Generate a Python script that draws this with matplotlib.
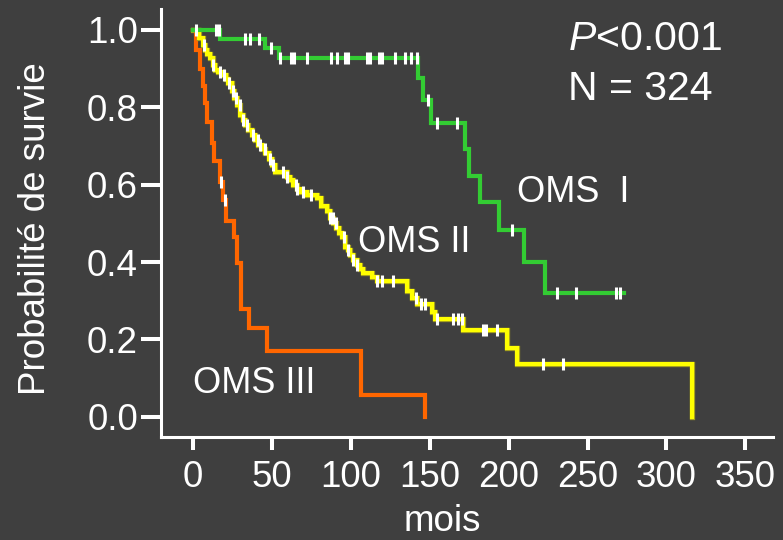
import numpy as np
import matplotlib.pyplot as plt
import matplotlib.patheffects as pe

plt.rcParams['font.family'] = ['Liberation Sans', 'DejaVu Sans']
plt.rcParams['mathtext.fontset'] = 'custom'
plt.rcParams['mathtext.it'] = 'Liberation Sans:italic'
plt.rcParams['mathtext.rm'] = 'Liberation Sans'

# OMS I (green): step times, survival after each step, censored times
t1 = [0, 17.3, 45.6, 54.5, 142.6, 145.5, 150.5, 172.4, 174.7, 181.9, 194, 209.8, 223, 273]
s1 = [1.0, 0.976, 0.953, 0.927, 0.876, 0.819, 0.760, 0.692, 0.623, 0.556, 0.483, 0.401, 0.321, 0.321]
c1 = [1.7, 14.5, 16.3, 33.2, 36.3, 42.0, 49.6, 55.3, 62, 64, 72.4, 87.6, 91.4, 96.5, 98.5,
      110, 112, 117.9, 120, 128.2, 134.5, 138.3, 142.0, 149, 154.8, 167.5, 202, 230.9,
      242.5, 267.9, 270.6]

# OMS II (yellow)
t2 = [0, 4, 6, 7.6, 9, 10.8, 12.5, 13.9, 16, 19.2, 21, 22.4, 24.5, 26, 27.7, 29.8, 31.5,
      33, 35, 37.2, 39.5, 41.4, 43.5, 45.6, 48, 49.9, 52, 59.4, 61.5, 63.5, 65.7, 68, 72,
      78.3, 81.4, 84.6, 86.7, 89, 90.9, 92.5, 94.1, 96.2, 98, 99.5, 101.5, 103.7, 106,
      107.9, 113.2, 116.3, 135.4, 138.6, 141.8, 151.3, 153.5, 171.3, 199.2, 205.5, 316.2]
s2 = [1.0, 0.978, 0.96, 0.948, 0.937, 0.927, 0.91, 0.897, 0.89, 0.884, 0.872, 0.862,
      0.841, 0.825, 0.806, 0.78, 0.768, 0.755, 0.742, 0.729, 0.716, 0.703, 0.692, 0.681,
      0.666, 0.651, 0.634, 0.621, 0.612, 0.60, 0.59, 0.582, 0.574, 0.565, 0.544, 0.531,
      0.513, 0.50, 0.487, 0.476, 0.466, 0.44, 0.43, 0.419, 0.405, 0.393, 0.382, 0.371,
      0.362, 0.35, 0.324, 0.307, 0.292, 0.270, 0.252, 0.225, 0.177, 0.137, 0.0]
c2 = [7.0, 12.9, 17.1, 19.9, 23.0, 25.1, 27.2, 29.5, 31.9, 34.4, 38.2, 41.0, 42.5, 45.3,
      48.8, 50.5, 56.8, 59.8, 65.3, 66.1, 69.9, 74.6, 86.8, 88.5, 90.6, 95.7, 98.4, 101.6,
      104.1, 116.4, 119.6, 126.9, 141.3, 144.3, 147.2, 154.8, 165, 167.7, 170.7, 184,
      185.7, 192.8, 222, 234.7]

# OMS III (orange)
t3 = [0, 1.9, 4.4, 6.1, 7.6, 9, 11.8, 13.3, 17.3, 19.2, 20.9, 26, 27.7, 30.5, 35.7,
      47.1, 106.3, 147]
s3 = [1.0, 0.948, 0.9, 0.854, 0.81, 0.763, 0.707, 0.66, 0.608, 0.56, 0.505, 0.466,
      0.397, 0.28, 0.229, 0.171, 0.057, 0.0]
c3 = [17.8, 20.3]

groups = [
    ("OMS III", t3, s3, c3, '#ff6600'),
    ("OMS II", t2, s2, c2, '#ffff00'),
    ("OMS  I", t1, s1, c1, '#33cc33'),
]

bg = '#3f3f3f'
fig = plt.figure(figsize=(7.83, 5.40), dpi=100, facecolor=bg)
ax = fig.add_axes([161 / 783, 1 - 437 / 540, 612 / 783, 428 / 540])
ax.set_facecolor(bg)

for name, t, s, c, col in groups:
    t = np.array(t)
    s = np.array(s)
    line, = ax.step(t, s, where='post', color=col, lw=3.0, solid_joinstyle='miter', zorder=2)
    if name == "OMS II":
        line.set_path_effects([pe.Stroke(linewidth=3.8, foreground='#a09a20'), pe.Normal()])
    idx = np.searchsorted(t, c, side='right') - 1
    ax.plot(c, s[idx], ls='none', marker='|', ms=9, mew=2.2, color='white', zorder=3)

ax.set_xlim(-20.3, 367.5)
ax.set_ylim(-0.052, 1.054)
ax.set_xticks(np.arange(0, 351, 50))
ax.set_yticks([0.0, 0.2, 0.4, 0.6, 0.8, 1.0])
ax.set_yticklabels(['0.0', '0.2', '0.4', '0.6', '0.8', '1.0'])

for side in ['top', 'right']:
    ax.spines[side].set_visible(False)
for side in ['left', 'bottom']:
    ax.spines[side].set_color('white')
    ax.spines[side].set_linewidth(2.2)

ax.tick_params(axis='y', colors='white', labelsize=26.5, length=14.5, width=2.9, pad=2)
ax.tick_params(axis='x', colors='white', labelsize=26.5, length=9.4, width=2.9, pad=7)

ax.set_xlabel('mois', color='white', fontsize=26.5)
ax.xaxis.set_label_coords(0.459, -0.157)
ax.set_ylabel('Probabilité de survie', color='white', fontsize=26.5)
ax.yaxis.set_label_coords(-0.177, 0.488)

ax.text(205.3, 0.556, 'OMS  I', color='white', fontsize=26, va='baseline')
ax.text(104.8, 0.427, 'OMS II', color='white', fontsize=26, va='baseline')
ax.text(-0.2, 0.061, 'OMS III', color='white', fontsize=26, va='baseline')
ax.text(237.6, 0.948, '$P$<0.001', color='white', fontsize=29.5, va='baseline')
ax.text(237.6, 0.819, 'N = 324', color='white', fontsize=29.5, va='baseline')

fig.savefig('out.png', dpi=100, facecolor=bg)
